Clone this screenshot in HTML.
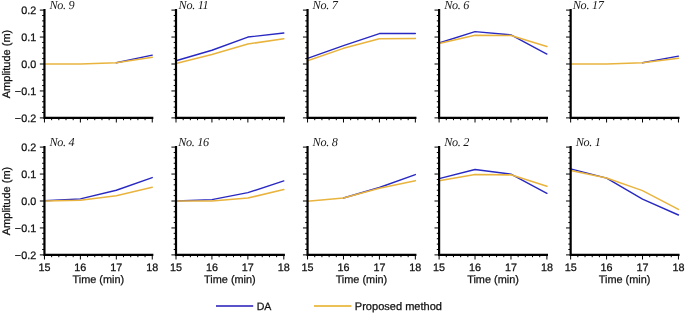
<!DOCTYPE html>
<html><head><meta charset="utf-8"><style>
html,body{margin:0;padding:0;background:#fff;}
body{width:685px;height:314px;overflow:hidden;}
svg{display:block;will-change:transform;}
text{text-rendering:geometricPrecision;font-family:"Liberation Sans",sans-serif;fill:#111;stroke:#111;stroke-width:0.25px;}
.t{font-family:"Liberation Serif",serif;font-style:italic;stroke:none;fill:#181818;font-size:12.2px;letter-spacing:-0.3px;text-anchor:middle;}
.yl{font-size:10.8px;text-anchor:end;}
.xl{font-size:10.8px;text-anchor:middle;}
.xt{font-size:10.9px;text-anchor:middle;}
.yt{font-size:11.0px;text-anchor:middle;}
.lg{font-size:11.05px;}
</style></head><body>
<svg width="685" height="314" viewBox="0 0 685 314">
<rect width="685" height="314" fill="#fff"/>
<polyline points="116.32,62.79 152.25,55.11" fill="none" stroke="#2828c2" stroke-width="1.4" stroke-linejoin="round" stroke-linecap="round"/>
<polyline points="44.45,64 80.38,64 116.32,62.79 152.25,57.26" fill="none" stroke="#e9b43e" stroke-width="1.55" stroke-linejoin="round" stroke-linecap="round"/>
<path d="M44.45 117.9H39.85M44.45 112.51H42.15M44.45 107.12H42.15M44.45 101.73H42.15M44.45 96.34H42.15M44.45 90.95H39.85M44.45 85.56H42.15M44.45 80.17H42.15M44.45 74.78H42.15M44.45 69.39H42.15M44.45 64H39.85M44.45 58.61H42.15M44.45 53.22H42.15M44.45 47.83H42.15M44.45 42.44H42.15M44.45 37.05H39.85M44.45 31.66H42.15M44.45 26.27H42.15M44.45 20.88H42.15M44.45 15.49H42.15M44.45 10.1H39.85M44.45 117.9V122.5M51.64 117.9V120.2M58.82 117.9V120.2M66.01 117.9V120.2M73.2 117.9V120.2M80.38 117.9V122.5M87.57 117.9V120.2M94.76 117.9V120.2M101.94 117.9V120.2M109.13 117.9V120.2M116.32 117.9V122.5M123.5 117.9V120.2M130.69 117.9V120.2M137.88 117.9V120.2M145.06 117.9V120.2M152.25 117.9V122.5" stroke="#000" stroke-width="1.0" fill="none"/>
<path d="M44.45 10.1V117.9H152.25" stroke="#000" stroke-width="2.2" fill="none" stroke-linecap="square"/>
<text x="61.95" y="9.1" class="t">No. 9</text>
<text x="36.2" y="13.9" class="yl">0.2</text>
<text x="36.2" y="40.85" class="yl">0.1</text>
<text x="36.2" y="67.8" class="yl">0.0</text>
<text x="36.2" y="94.75" class="yl">−0.1</text>
<text x="36.2" y="121.7" class="yl">−0.2</text>
<text class="yt" transform="translate(10 64) rotate(-90)">Amplitude (m)</text>
<polyline points="176,60.77 211.93,50.26 247.87,37.05 283.8,33.01" fill="none" stroke="#2828c2" stroke-width="1.4" stroke-linejoin="round" stroke-linecap="round"/>
<polyline points="176,63.46 211.93,54.57 247.87,44.06 283.8,38.67" fill="none" stroke="#e9b43e" stroke-width="1.55" stroke-linejoin="round" stroke-linecap="round"/>
<path d="M176 117.9H171.4M176 112.51H173.7M176 107.12H173.7M176 101.73H173.7M176 96.34H173.7M176 90.95H171.4M176 85.56H173.7M176 80.17H173.7M176 74.78H173.7M176 69.39H173.7M176 64H171.4M176 58.61H173.7M176 53.22H173.7M176 47.83H173.7M176 42.44H173.7M176 37.05H171.4M176 31.66H173.7M176 26.27H173.7M176 20.88H173.7M176 15.49H173.7M176 10.1H171.4M176 117.9V122.5M183.19 117.9V120.2M190.37 117.9V120.2M197.56 117.9V120.2M204.75 117.9V120.2M211.93 117.9V122.5M219.12 117.9V120.2M226.31 117.9V120.2M233.49 117.9V120.2M240.68 117.9V120.2M247.87 117.9V122.5M255.05 117.9V120.2M262.24 117.9V120.2M269.43 117.9V120.2M276.61 117.9V120.2M283.8 117.9V122.5" stroke="#000" stroke-width="1.0" fill="none"/>
<path d="M176 10.1V117.9H283.8" stroke="#000" stroke-width="2.2" fill="none" stroke-linecap="square"/>
<text x="193.5" y="9.1" class="t">No. 11</text>
<polyline points="307.55,58.34 343.48,45.67 379.42,33.55 415.35,33.55" fill="none" stroke="#2828c2" stroke-width="1.4" stroke-linejoin="round" stroke-linecap="round"/>
<polyline points="307.55,60.77 343.48,48.37 379.42,38.67 415.35,38.4" fill="none" stroke="#e9b43e" stroke-width="1.55" stroke-linejoin="round" stroke-linecap="round"/>
<path d="M307.55 117.9H302.95M307.55 112.51H305.25M307.55 107.12H305.25M307.55 101.73H305.25M307.55 96.34H305.25M307.55 90.95H302.95M307.55 85.56H305.25M307.55 80.17H305.25M307.55 74.78H305.25M307.55 69.39H305.25M307.55 64H302.95M307.55 58.61H305.25M307.55 53.22H305.25M307.55 47.83H305.25M307.55 42.44H305.25M307.55 37.05H302.95M307.55 31.66H305.25M307.55 26.27H305.25M307.55 20.88H305.25M307.55 15.49H305.25M307.55 10.1H302.95M307.55 117.9V122.5M314.74 117.9V120.2M321.92 117.9V120.2M329.11 117.9V120.2M336.3 117.9V120.2M343.48 117.9V122.5M350.67 117.9V120.2M357.86 117.9V120.2M365.04 117.9V120.2M372.23 117.9V120.2M379.42 117.9V122.5M386.6 117.9V120.2M393.79 117.9V120.2M400.98 117.9V120.2M408.16 117.9V120.2M415.35 117.9V122.5" stroke="#000" stroke-width="1.0" fill="none"/>
<path d="M307.55 10.1V117.9H415.35" stroke="#000" stroke-width="2.2" fill="none" stroke-linecap="square"/>
<text x="325.05" y="9.1" class="t">No. 7</text>
<polyline points="439.1,42.98 475.03,31.66 510.97,34.89 546.9,54.03" fill="none" stroke="#2828c2" stroke-width="1.4" stroke-linejoin="round" stroke-linecap="round"/>
<polyline points="439.1,43.52 475.03,35.16 510.97,35.43 546.9,46.48" fill="none" stroke="#e9b43e" stroke-width="1.55" stroke-linejoin="round" stroke-linecap="round"/>
<path d="M439.1 117.9H434.5M439.1 112.51H436.8M439.1 107.12H436.8M439.1 101.73H436.8M439.1 96.34H436.8M439.1 90.95H434.5M439.1 85.56H436.8M439.1 80.17H436.8M439.1 74.78H436.8M439.1 69.39H436.8M439.1 64H434.5M439.1 58.61H436.8M439.1 53.22H436.8M439.1 47.83H436.8M439.1 42.44H436.8M439.1 37.05H434.5M439.1 31.66H436.8M439.1 26.27H436.8M439.1 20.88H436.8M439.1 15.49H436.8M439.1 10.1H434.5M439.1 117.9V122.5M446.29 117.9V120.2M453.47 117.9V120.2M460.66 117.9V120.2M467.85 117.9V120.2M475.03 117.9V122.5M482.22 117.9V120.2M489.41 117.9V120.2M496.59 117.9V120.2M503.78 117.9V120.2M510.97 117.9V122.5M518.15 117.9V120.2M525.34 117.9V120.2M532.53 117.9V120.2M539.71 117.9V120.2M546.9 117.9V122.5" stroke="#000" stroke-width="1.0" fill="none"/>
<path d="M439.1 10.1V117.9H546.9" stroke="#000" stroke-width="2.2" fill="none" stroke-linecap="square"/>
<text x="456.6" y="9.1" class="t">No. 6</text>
<polyline points="642.52,62.79 678.45,56.18" fill="none" stroke="#2828c2" stroke-width="1.4" stroke-linejoin="round" stroke-linecap="round"/>
<polyline points="570.65,64 606.58,64 642.52,62.79 678.45,58.34" fill="none" stroke="#e9b43e" stroke-width="1.55" stroke-linejoin="round" stroke-linecap="round"/>
<path d="M570.65 117.9H566.05M570.65 112.51H568.35M570.65 107.12H568.35M570.65 101.73H568.35M570.65 96.34H568.35M570.65 90.95H566.05M570.65 85.56H568.35M570.65 80.17H568.35M570.65 74.78H568.35M570.65 69.39H568.35M570.65 64H566.05M570.65 58.61H568.35M570.65 53.22H568.35M570.65 47.83H568.35M570.65 42.44H568.35M570.65 37.05H566.05M570.65 31.66H568.35M570.65 26.27H568.35M570.65 20.88H568.35M570.65 15.49H568.35M570.65 10.1H566.05M570.65 117.9V122.5M577.84 117.9V120.2M585.02 117.9V120.2M592.21 117.9V120.2M599.4 117.9V120.2M606.58 117.9V122.5M613.77 117.9V120.2M620.96 117.9V120.2M628.14 117.9V120.2M635.33 117.9V120.2M642.52 117.9V122.5M649.7 117.9V120.2M656.89 117.9V120.2M664.08 117.9V120.2M671.26 117.9V120.2M678.45 117.9V122.5" stroke="#000" stroke-width="1.0" fill="none"/>
<path d="M570.65 10.1V117.9H678.45" stroke="#000" stroke-width="2.2" fill="none" stroke-linecap="square"/>
<text x="588.15" y="9.1" class="t">No. 17</text>
<polyline points="44.45,200.73 80.38,198.84 116.32,190.22 152.25,177.55" fill="none" stroke="#2828c2" stroke-width="1.4" stroke-linejoin="round" stroke-linecap="round"/>
<polyline points="44.45,201 80.38,200.19 116.32,195.66 152.25,187.26" fill="none" stroke="#e9b43e" stroke-width="1.55" stroke-linejoin="round" stroke-linecap="round"/>
<path d="M44.45 254.9H39.85M44.45 249.51H42.15M44.45 244.12H42.15M44.45 238.73H42.15M44.45 233.34H42.15M44.45 227.95H39.85M44.45 222.56H42.15M44.45 217.17H42.15M44.45 211.78H42.15M44.45 206.39H42.15M44.45 201H39.85M44.45 195.61H42.15M44.45 190.22H42.15M44.45 184.83H42.15M44.45 179.44H42.15M44.45 174.05H39.85M44.45 168.66H42.15M44.45 163.27H42.15M44.45 157.88H42.15M44.45 152.49H42.15M44.45 147.1H39.85M44.45 254.9V259.5M51.64 254.9V257.2M58.82 254.9V257.2M66.01 254.9V257.2M73.2 254.9V257.2M80.38 254.9V259.5M87.57 254.9V257.2M94.76 254.9V257.2M101.94 254.9V257.2M109.13 254.9V257.2M116.32 254.9V259.5M123.5 254.9V257.2M130.69 254.9V257.2M137.88 254.9V257.2M145.06 254.9V257.2M152.25 254.9V259.5" stroke="#000" stroke-width="1.0" fill="none"/>
<path d="M44.45 147.1V254.9H152.25" stroke="#000" stroke-width="2.2" fill="none" stroke-linecap="square"/>
<text x="61.95" y="146.1" class="t">No. 4</text>
<text x="36.2" y="150.9" class="yl">0.2</text>
<text x="36.2" y="177.85" class="yl">0.1</text>
<text x="36.2" y="204.8" class="yl">0.0</text>
<text x="36.2" y="231.75" class="yl">−0.1</text>
<text x="36.2" y="258.7" class="yl">−0.2</text>
<text class="yt" transform="translate(10 201) rotate(-90)">Amplitude (m)</text>
<text x="44.45" y="271.2" class="xl">15</text>
<text x="80.38" y="271.2" class="xl">16</text>
<text x="116.32" y="271.2" class="xl">17</text>
<text x="152.25" y="271.2" class="xl">18</text>
<text x="98.35" y="283" class="xt">Time (min)</text>
<polyline points="176,201 211.93,199.65 247.87,192.65 283.8,180.92" fill="none" stroke="#2828c2" stroke-width="1.4" stroke-linejoin="round" stroke-linecap="round"/>
<polyline points="176,201 211.93,201 247.87,198.04 283.8,189.55" fill="none" stroke="#e9b43e" stroke-width="1.55" stroke-linejoin="round" stroke-linecap="round"/>
<path d="M176 254.9H171.4M176 249.51H173.7M176 244.12H173.7M176 238.73H173.7M176 233.34H173.7M176 227.95H171.4M176 222.56H173.7M176 217.17H173.7M176 211.78H173.7M176 206.39H173.7M176 201H171.4M176 195.61H173.7M176 190.22H173.7M176 184.83H173.7M176 179.44H173.7M176 174.05H171.4M176 168.66H173.7M176 163.27H173.7M176 157.88H173.7M176 152.49H173.7M176 147.1H171.4M176 254.9V259.5M183.19 254.9V257.2M190.37 254.9V257.2M197.56 254.9V257.2M204.75 254.9V257.2M211.93 254.9V259.5M219.12 254.9V257.2M226.31 254.9V257.2M233.49 254.9V257.2M240.68 254.9V257.2M247.87 254.9V259.5M255.05 254.9V257.2M262.24 254.9V257.2M269.43 254.9V257.2M276.61 254.9V257.2M283.8 254.9V259.5" stroke="#000" stroke-width="1.0" fill="none"/>
<path d="M176 147.1V254.9H283.8" stroke="#000" stroke-width="2.2" fill="none" stroke-linecap="square"/>
<text x="193.5" y="146.1" class="t">No. 16</text>
<text x="176" y="271.2" class="xl">15</text>
<text x="211.93" y="271.2" class="xl">16</text>
<text x="247.87" y="271.2" class="xl">17</text>
<text x="283.8" y="271.2" class="xl">18</text>
<text x="229.9" y="283" class="xt">Time (min)</text>
<polyline points="343.48,198.04 379.42,187.53 415.35,174.59" fill="none" stroke="#2828c2" stroke-width="1.4" stroke-linejoin="round" stroke-linecap="round"/>
<polyline points="307.55,201.27 343.48,198.04 379.42,188.33 415.35,180.65" fill="none" stroke="#e9b43e" stroke-width="1.55" stroke-linejoin="round" stroke-linecap="round"/>
<path d="M307.55 254.9H302.95M307.55 249.51H305.25M307.55 244.12H305.25M307.55 238.73H305.25M307.55 233.34H305.25M307.55 227.95H302.95M307.55 222.56H305.25M307.55 217.17H305.25M307.55 211.78H305.25M307.55 206.39H305.25M307.55 201H302.95M307.55 195.61H305.25M307.55 190.22H305.25M307.55 184.83H305.25M307.55 179.44H305.25M307.55 174.05H302.95M307.55 168.66H305.25M307.55 163.27H305.25M307.55 157.88H305.25M307.55 152.49H305.25M307.55 147.1H302.95M307.55 254.9V259.5M314.74 254.9V257.2M321.92 254.9V257.2M329.11 254.9V257.2M336.3 254.9V257.2M343.48 254.9V259.5M350.67 254.9V257.2M357.86 254.9V257.2M365.04 254.9V257.2M372.23 254.9V257.2M379.42 254.9V259.5M386.6 254.9V257.2M393.79 254.9V257.2M400.98 254.9V257.2M408.16 254.9V257.2M415.35 254.9V259.5" stroke="#000" stroke-width="1.0" fill="none"/>
<path d="M307.55 147.1V254.9H415.35" stroke="#000" stroke-width="2.2" fill="none" stroke-linecap="square"/>
<text x="325.05" y="146.1" class="t">No. 8</text>
<text x="307.55" y="271.2" class="xl">15</text>
<text x="343.48" y="271.2" class="xl">16</text>
<text x="379.42" y="271.2" class="xl">17</text>
<text x="415.35" y="271.2" class="xl">18</text>
<text x="361.45" y="283" class="xt">Time (min)</text>
<polyline points="439.1,178.63 475.03,169.47 510.97,174.18 546.9,193.32" fill="none" stroke="#2828c2" stroke-width="1.4" stroke-linejoin="round" stroke-linecap="round"/>
<polyline points="439.1,180.79 475.03,174.59 510.97,174.86 546.9,186.18" fill="none" stroke="#e9b43e" stroke-width="1.55" stroke-linejoin="round" stroke-linecap="round"/>
<path d="M439.1 254.9H434.5M439.1 249.51H436.8M439.1 244.12H436.8M439.1 238.73H436.8M439.1 233.34H436.8M439.1 227.95H434.5M439.1 222.56H436.8M439.1 217.17H436.8M439.1 211.78H436.8M439.1 206.39H436.8M439.1 201H434.5M439.1 195.61H436.8M439.1 190.22H436.8M439.1 184.83H436.8M439.1 179.44H436.8M439.1 174.05H434.5M439.1 168.66H436.8M439.1 163.27H436.8M439.1 157.88H436.8M439.1 152.49H436.8M439.1 147.1H434.5M439.1 254.9V259.5M446.29 254.9V257.2M453.47 254.9V257.2M460.66 254.9V257.2M467.85 254.9V257.2M475.03 254.9V259.5M482.22 254.9V257.2M489.41 254.9V257.2M496.59 254.9V257.2M503.78 254.9V257.2M510.97 254.9V259.5M518.15 254.9V257.2M525.34 254.9V257.2M532.53 254.9V257.2M539.71 254.9V257.2M546.9 254.9V259.5" stroke="#000" stroke-width="1.0" fill="none"/>
<path d="M439.1 147.1V254.9H546.9" stroke="#000" stroke-width="2.2" fill="none" stroke-linecap="square"/>
<text x="456.6" y="146.1" class="t">No. 2</text>
<text x="439.1" y="271.2" class="xl">15</text>
<text x="475.03" y="271.2" class="xl">16</text>
<text x="510.97" y="271.2" class="xl">17</text>
<text x="546.9" y="271.2" class="xl">18</text>
<text x="493" y="283" class="xt">Time (min)</text>
<polyline points="570.65,168.93 606.58,178.09 642.52,199.11 678.45,215.01" fill="none" stroke="#2828c2" stroke-width="1.4" stroke-linejoin="round" stroke-linecap="round"/>
<polyline points="570.65,170.55 606.58,178.09 642.52,190.62 678.45,209.35" fill="none" stroke="#e9b43e" stroke-width="1.55" stroke-linejoin="round" stroke-linecap="round"/>
<path d="M570.65 254.9H566.05M570.65 249.51H568.35M570.65 244.12H568.35M570.65 238.73H568.35M570.65 233.34H568.35M570.65 227.95H566.05M570.65 222.56H568.35M570.65 217.17H568.35M570.65 211.78H568.35M570.65 206.39H568.35M570.65 201H566.05M570.65 195.61H568.35M570.65 190.22H568.35M570.65 184.83H568.35M570.65 179.44H568.35M570.65 174.05H566.05M570.65 168.66H568.35M570.65 163.27H568.35M570.65 157.88H568.35M570.65 152.49H568.35M570.65 147.1H566.05M570.65 254.9V259.5M577.84 254.9V257.2M585.02 254.9V257.2M592.21 254.9V257.2M599.4 254.9V257.2M606.58 254.9V259.5M613.77 254.9V257.2M620.96 254.9V257.2M628.14 254.9V257.2M635.33 254.9V257.2M642.52 254.9V259.5M649.7 254.9V257.2M656.89 254.9V257.2M664.08 254.9V257.2M671.26 254.9V257.2M678.45 254.9V259.5" stroke="#000" stroke-width="1.0" fill="none"/>
<path d="M570.65 147.1V254.9H678.45" stroke="#000" stroke-width="2.2" fill="none" stroke-linecap="square"/>
<text x="588.15" y="146.1" class="t">No. 1</text>
<text x="570.65" y="271.2" class="xl">15</text>
<text x="606.58" y="271.2" class="xl">16</text>
<text x="642.52" y="271.2" class="xl">17</text>
<text x="678.45" y="271.2" class="xl">18</text>
<text x="624.55" y="283" class="xt">Time (min)</text>
<line x1="216" y1="306.0" x2="253.2" y2="306.0" stroke="#5a52c8" stroke-width="2"/>
<text x="256.7" y="309.8" class="lg" style="font-size:10.6px">DA</text>
<line x1="314" y1="306.0" x2="351.4" y2="306.0" stroke="#ebc055" stroke-width="2"/>
<text x="354.8" y="309.9" class="lg">Proposed method</text>
</svg>
</body></html>
